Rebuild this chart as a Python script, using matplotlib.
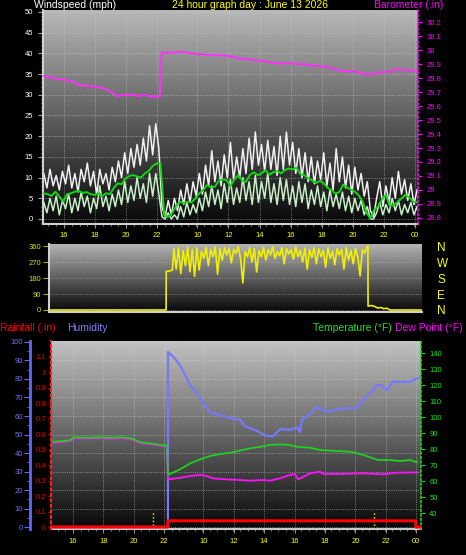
import numpy as np
import matplotlib.pyplot as plt
from matplotlib.ticker import MultipleLocator

plt.rcParams['font.family'] = ['Liberation Sans', 'DejaVu Sans']

## hour axis shared by the three panels (wider gap after 22)
hour_pos = [16, 18, 20, 22, 24.57, 26.57, 28.57, 30.57, 32.57, 34.57, 36.57, 38.57]
hour_lab = ['16', '18', '20', '22', '10', '12', '14', '16', '18', '20', '22', '00']

#### 1. wind speed (mph), one value every 0.2 h from 14.7
gust = [11, 7.5, 12, 8, 10.5, 7, 11.5,
        8.5, 13, 7.5, 11, 6.5, 12, 9, 13.5,
        8, 11.5, 6, 12, 8.5, 11, 7, 12.5, 9,
        14, 10, 16, 11, 17,
        12.5, 18, 13, 19.5, 14,
        22.5, 15.5, 23, 17,
        3, 0.5, 4.5, 1,
        5, 2, 7, 3.5,
        8.5, 4, 9, 5.5,
        11, 6, 13, 8, 16.5,
        9, 14, 8, 15.5, 10,
        18.5, 9.5, 15, 10, 17,
        11, 19.5, 12, 21, 13, 18,
        11.5, 19, 12, 17.5, 10.5, 20,
        12, 21, 13, 18.5, 11, 17,
        10, 16, 9, 15, 8.5, 14,
        9.5, 16, 8, 13.5, 7, 17,
        9, 15, 7.5, 13, 6, 12.5,
        7, 11, 5.5, 9,
        2, 0.5, 5,
        9, 3, 8, 4, 10, 5,
        11.5, 6, 9.5, 4.5, 8.5, 3.5, 7]
speed = [4, 1.5, 5, 2, 5.5, 1, 4.5,
         2.5, 6, 1.5, 5, 2, 6.5, 3, 5.5,
         1.5, 5, 2.5, 8, 3, 5.5, 2, 6, 3,
         7, 3.5, 9, 4, 8,
         4.5, 10, 5, 8.5, 4,
         11, 5.5, 11, 6,
         0.5, 0, 1.5, 0,
         1, 0, 3, 0.5,
         4, 1, 3.5, 1.5,
         5, 2, 6.5, 3, 8,
         3.5, 7, 2.5, 8.5, 4,
         9.5, 3.5, 7.5, 4, 10,
         4.5, 9, 3.5, 10.5, 4, 9,
         5, 11, 4, 8.5, 3.5, 10,
         4.5, 9.5, 3.5, 8, 3, 9,
         4, 8.5, 2.5, 7, 3.5, 8,
         3, 6.5, 2, 7, 3, 6,
         2.5, 6.5, 2, 5.5, 1.5, 5,
         2, 4.5, 1, 3,
         0, 0, 1.5,
         4, 1, 3.5, 1.5, 5, 2,
         4.5, 1, 3.5, 1.5, 4, 1, 3]
# average wind, every 0.25 h from 14.7
wind_avg = [6.2, 6.0, 5.6, 6.6, 5.4, 4.2, 6.0, 6.2, 6.6, 6.8,
            6.3, 6.5, 6.0, 5.8, 6.2, 5.5, 6.2, 6.0, 7.5, 8.6,
            8.4, 9.8, 10.4, 10.6, 10.3, 10.0, 11.0, 11.6, 12.8, 13.4,
            13.4,
            0.8, 0.5, 1.5, 3.0, 4.2, 3.8, 4.2, 4.0, 5.0, 6.2,
            7.0, 8.2, 7.6, 7.8, 9.2, 9.6, 9.4, 7.9, 9.6, 10.6,
            9.3, 9.0, 10.6, 11.3, 10.6, 11.0, 11.8, 10.7, 11.3, 11.6,
            11.0, 11.8, 12.2, 12.0, 12.4, 10.8, 10.6, 9.8, 9.3, 8.7,
            9.2, 8.6, 7.5, 7.0, 6.1, 6.5, 8.3, 7.6, 7.1, 6.6,
            5.7, 4.2, 1.5, 0.1, 2.3, 3.0, 4.8, 5.8, 3.1, 3.4,
            4.1, 5.0, 5.8, 5.2, 4.2, 4.0]

# barometer (in)
baro_t = [14.65, 15.31, 15.96, 16.6, 16.92, 17.67, 18.32, 18.75, 19.17, 19.39,
          19.81, 20.46, 20.89, 21.1, 21.74, 22.17, 22.27, 22.6, 23.67, 24.53,
          25.6, 26.46, 27.32, 28.6, 29.68, 30.53, 31.82, 32.89, 33.75, 34.82,
          35.25, 35.89, 36.53, 36.96, 37.18, 37.82, 38.25, 38.68]
baro = [29.814, 29.80, 29.79, 29.774, 29.75, 29.743, 29.733, 29.72, 29.69, 29.671,
        29.679, 29.679, 29.671, 29.68, 29.666, 29.67, 29.98, 29.98, 29.986, 29.971,
        29.964, 29.96, 29.94, 29.924, 29.905, 29.905, 29.893, 29.88, 29.852, 29.845,
        29.829, 29.829, 29.845, 29.845, 29.862, 29.857, 29.857, 29.845]
baro_ticks = [28.8, 28.9, 29, 29.1, 29.2, 29.3, 29.4, 29.5, 29.6, 29.7, 29.8, 29.9, 30, 30.1, 30.2]

#### 2. wind direction (deg)
dir_head_t = [14.6, 22.19, 22.2, 22.45, 22.6]
dir_head = [0, 0, 217, 220, 225]
# every 0.15 h from 22.7
dir_noisy = [345, 230, 350, 205, 335, 250, 355, 215, 340, 190, 350, 225, 330,
             290, 352, 250, 340, 300, 355, 202, 345, 280, 350, 310, 348, 265, 340, 320, 355, 290, 152, 330, 300,
             350, 270, 345, 214, 335, 300, 352, 280, 340, 310, 355, 290, 330, 305, 350,
             260, 345, 315, 340, 285, 355, 300, 335, 270, 348, 230, 340, 295, 350,
             260, 345, 300, 335, 240, 350, 290, 330, 255, 345, 310, 340, 230, 350,
             280, 335, 260, 345, 300, 191, 340, 320, 355]
dir_tail_t = [35.36, 35.37, 35.6, 35.8, 36.0, 36.2, 36.4, 36.6, 36.8, 38.89]
dir_tail = [360, 22, 25, 20, 11, 14, 7, 10, 0, 0]
compass = ['N', 'E', 'S', 'W', 'N']

#### 3. rain / humidity / temperature / dew point
hum_t = [14.6, 22.24, 22.25, 22.6, 23.04, 23.7, 24.36, 25.01, 25.67, 26.33,
         26.99, 27.32, 28.1, 28.63, 29.16, 29.62, 30.28, 30.74, 30.93, 31.07,
         31.59, 32.03, 32.45, 32.91, 33.57, 34.68, 35.08, 35.74, 36.0, 36.3,
         36.66, 37.05, 38.17, 38.61, 38.89]
hum = [0, 0, 94.6, 92, 87.5, 76.8, 70, 62, 60.5, 59,
       58, 54.5, 52, 49.5, 49, 53, 52.5, 54, 51.5, 58,
       61, 65, 63, 62.5, 64, 64.3, 68.6, 74, 76.8, 76.5,
       74, 78.5, 78.5, 80.4, 80.5]

temp_t = [14.68, 15.27, 15.8, 16.06, 17.12, 17.78, 18.43, 19.09, 19.75, 20.08,
          20.41, 21.06, 21.72, 22.18, 22.25, 23.04, 23.7, 24.35, 25.01, 25.67,
          26.33, 26.98, 27.64, 28.3, 28.96, 29.62, 30.27, 30.73, 31.59, 32.25,
          32.9, 34.22, 34.55, 35.08, 35.74, 36.07, 36.86, 37.51, 38.17, 38.63]
temp = [84.6, 84.9, 85.5, 87.3, 87.0, 87.3, 87.0, 87.3, 86.8, 85.7,
        84.3, 83.5, 82.6, 82.1, 63.8, 67.3, 71.0, 73.5, 75.6, 76.9,
        77.6, 79.0, 80.4, 81.4, 82.5, 82.9, 82.5, 81.4, 80.8, 79.4,
        79.0, 78.3, 77.7, 76.3, 74.2, 73.1, 73.1, 72.5, 73.1, 71.7]

dew_t = [14.68, 15.27, 15.8, 16.06, 17.12, 17.78, 18.43, 19.09, 19.75, 20.08,
         20.41, 21.06, 21.72, 22.18, 22.25, 23.04, 23.7, 24.35, 24.79, 25.2,
         26.1, 26.98, 27.64, 28.5, 28.96, 29.62, 30.27, 30.6, 30.8, 31.13,
         31.59, 32.25, 32.45, 33.57, 35.08, 36.4, 37.3, 38.63]
dew = [84.0, 84.3, 85.0, 86.7, 86.5, 86.8, 86.4, 86.7, 86.3, 85.1,
       83.8, 83.0, 82.1, 81.6, 61.0, 62.0, 63.1, 63.8, 63.1, 61.7,
       61.0, 60.6, 60.2, 60.6, 60.2, 61.7, 63.8, 64.4, 61.0, 62.5,
       64.8, 65.8, 64.4, 64.4, 64.8, 64.2, 65.2, 65.4]

rain_t = [14.6, 22.24, 22.25, 38.54, 38.55, 38.89]
rain = [0, 0, 0.04, 0.04, 0, 0]
marker_t = [21.24, 35.8]

W, H = 466, 555
fig = plt.figure(figsize=(W / 100, H / 100), dpi=100, facecolor='black')
title_size = 7.5


def box(l, t, r, b):
    return [l / W, 1 - b / H, (r - l) / W, (b - t) / H]


def shade(ax, top=0.72, bottom=0.03):
    g = np.linspace(top, bottom, 256).reshape(-1, 1)
    ax.imshow(g, cmap='gray', vmin=0, vmax=1, aspect='auto', extent=[0, 1, 0, 1],
              transform=ax.transAxes, zorder=0, interpolation='bilinear')


def hour_axis(ax, pad):
    ax.set_xticks(hour_pos, hour_lab)
    ax.xaxis.set_minor_locator(MultipleLocator(0.5))
    ax.tick_params(axis='x', which='both', color='#909090', labelcolor='#ffff00',
                   labelsize=5.5, pad=pad)
    ax.tick_params(axis='x', which='major', length=3)
    ax.tick_params(axis='x', which='minor', length=1.5)


## panel 1 : wind + barometer
ax1 = fig.add_axes(box(43, 10, 418, 224))
ax1.set_facecolor('black')
shade(ax1, 0.72, 0.03)
wind_t = 14.7 + 0.2 * np.arange(len(gust))
avg_t = 14.7 + 0.25 * np.arange(len(wind_avg))
ax1.plot(wind_t, gust, color='#f0f0f0', lw=1.1, zorder=2)
ax1.plot(wind_t, speed, color='#c8f0c8', lw=1.1, zorder=3)
ax1.plot(avg_t, wind_avg, color='#10d810', lw=1.4, zorder=4)
ax1.set_xlim(14.65, 38.76)
ax1.set_ylim(-1.21, 50.48)
ax1.set_yticks(range(0, 51, 5))
ax1.yaxis.set_minor_locator(MultipleLocator(1))
ax1.tick_params(axis='y', which='both', color='#a0a0a0', labelcolor='white', labelsize=5.5, pad=3.5)
ax1.tick_params(axis='y', which='major', length=3.6)
ax1.tick_params(axis='y', which='minor', length=1.5)
hour_axis(ax1, 2.5)
ax1.grid(True, color='#d0d0d0', ls=':', lw=0.6, alpha=0.7)
for s in ['top', 'right']:
    ax1.spines[s].set_visible(False)
for s in ['left', 'bottom']:
    ax1.spines[s].set_color('#d0d0d0')
    ax1.spines[s].set_linewidth(1.5)

ax1b = ax1.twinx()
ax1b.plot(baro_t, baro, color='#ff30ff', lw=1.4)
ax1b.set_ylim(28.757, 30.286)
ax1b.set_yticks(baro_ticks, ['%g' % v for v in baro_ticks])
ax1b.tick_params(axis='y', color='#ff00ff', labelcolor='#ff00ff', labelsize=5.5, length=3, pad=3)
for s in ['top', 'left', 'bottom']:
    ax1b.spines[s].set_visible(False)
ax1b.spines['right'].set_color('#ff00ff')
ax1b.spines['right'].set_linestyle(':')
ax1b.spines['right'].set_linewidth(1.2)

fig.text(34 / W, 1 - 8.5 / H, 'Windspeed (mph)', color='white', fontsize=title_size, va='baseline')
fig.text(172 / W, 1 - 8.5 / H, '24 hour graph day : June 13 2026', color='#ffff00', fontsize=title_size, va='baseline')
fig.text(443 / W, 1 - 8.5 / H, 'Barometer (.in)', color='#ff00ff', fontsize=title_size, va='baseline', ha='right')

## panel 2 : wind direction
ax2 = fig.add_axes(box(49, 244, 422, 312))
ax2.set_facecolor('black')
shade(ax2, 0.7, 0.03)
dir_t = np.concatenate([dir_head_t, 22.7 + 0.15 * np.arange(len(dir_noisy)), dir_tail_t])
wdir = np.concatenate([dir_head, dir_noisy, dir_tail])
ax2.plot(dir_t, wdir, color='#f0f000', lw=1.2, zorder=3)
ax2.set_xlim(14.55, 38.89)
ax2.set_ylim(-11.25, 371.25)
ax2.set_yticks([0, 90, 180, 270, 360])
ax2.yaxis.grid(True, color='#b8b8b8', ls=':', lw=0.6, alpha=0.7)
ax2.tick_params(axis='y', color='#b0b000', labelcolor='#e0e000', labelsize=5.5, length=4, pad=1.5)
ax2.tick_params(axis='x', length=0, labelbottom=False)
for s in ['top', 'right']:
    ax2.spines[s].set_visible(False)
for s in ['left', 'bottom']:
    ax2.spines[s].set_color('#d0d0d0')
    ax2.spines[s].set_linewidth(1.5)

ax2r = ax2.twinx()
ax2r.set_ylim(-11.25, 371.25)
ax2r.set_yticks([0, 90, 180, 270, 360], compass)
ax2r.tick_params(axis='y', length=0, pad=11, labelcolor='#ffff00', labelsize=8.5)
for s in ax2r.spines.values():
    s.set_visible(False)

## panel 3 : humidity, temperature, dew point, rainfall
ax3 = fig.add_axes(box(51, 341, 421, 529))
ax3.set_facecolor('black')
shade(ax3, 0.76, 0.03)
ax3.plot(hum_t, hum, color='#7878ff', lw=1.6, zorder=3)
for t in marker_t:
    ax3.axvline(t, ymin=0, ymax=0.096, color='#ffff00', ls=':', lw=1.0, zorder=2)
ax3.set_xlim(14.55, 38.89)
ax3.set_ylim(-1.08, 100.54)
ax3.set_yticks(range(0, 101, 10))
ax3.yaxis.set_minor_locator(MultipleLocator(5))
ax3.tick_params(axis='y', which='both', color='#6666ff', labelcolor='#7070ff', labelsize=5.5, pad=0.8)
ax3.tick_params(axis='y', which='major', length=4.3)
ax3.tick_params(axis='y', which='minor', length=2)
hour_axis(ax3, 3.5)
ax3.grid(True, color='#d0d0d0', ls=':', lw=0.6, alpha=0.7)
ax3.spines['left'].set_position(('outward', 15))
ax3.spines['left'].set_color('#6666ff')
ax3.spines['left'].set_linewidth(2)
ax3.spines['bottom'].set_color('#c8c8c8')
ax3.spines['bottom'].set_linewidth(1.5)
for s in ['top', 'right']:
    ax3.spines[s].set_visible(False)

ax3t = ax3.twinx()
ax3t.plot(dew_t, dew, color='#ff10ff', lw=1.3)
ax3t.plot(temp_t, temp, color='#20d020', lw=1.3)
ax3t.set_ylim(30, 147.5)
ax3t.set_yticks(range(40, 141, 10))
ax3t.tick_params(axis='y', color='#20d020', labelcolor='#20e020', labelsize=5.5, length=3, pad=3)
for s in ['top', 'left', 'bottom']:
    ax3t.spines[s].set_visible(False)
ax3t.spines['right'].set_color('#20d020')
ax3t.spines['right'].set_linestyle(':')
ax3t.spines['right'].set_linewidth(1.2)

ax3r = ax3.twinx()
ax3r.plot(rain_t, rain, color='#ff0000', lw=2.2)
ax3r.set_ylim(-0.0129, 1.2)
ax3r.yaxis.tick_left()
ax3r.set_yticks(np.arange(12) / 10, ['%g' % (v / 10) for v in range(12)])
ax3r.tick_params(axis='y', color='#cc0000', labelcolor='#dd0000', labelsize=5.5, length=2.5, pad=1)
for s in ['top', 'right', 'bottom']:
    ax3r.spines[s].set_visible(False)
ax3r.spines['left'].set_visible(True)
ax3r.spines['left'].set_color('#ff2020')
ax3r.spines['left'].set_linestyle(':')
ax3r.spines['left'].set_linewidth(1.5)

fig.text(0 / W, 1 - 331 / H, 'Rainfall (.in)', color='#ff0000', fontsize=title_size, va='baseline')
fig.text(67 / W, 1 - 331 / H, 'Humidity', color='#8080ff', fontsize=title_size, va='baseline')
fig.text(392 / W, 1 - 331 / H, 'Temperature (°F)', color='#20e020', fontsize=title_size, va='baseline', ha='right')
fig.text(463 / W, 1 - 331 / H, 'Dew Point (°F)', color='#ff00ff', fontsize=title_size, va='baseline', ha='right')

plt.savefig('out.png', dpi=100, facecolor='black')
